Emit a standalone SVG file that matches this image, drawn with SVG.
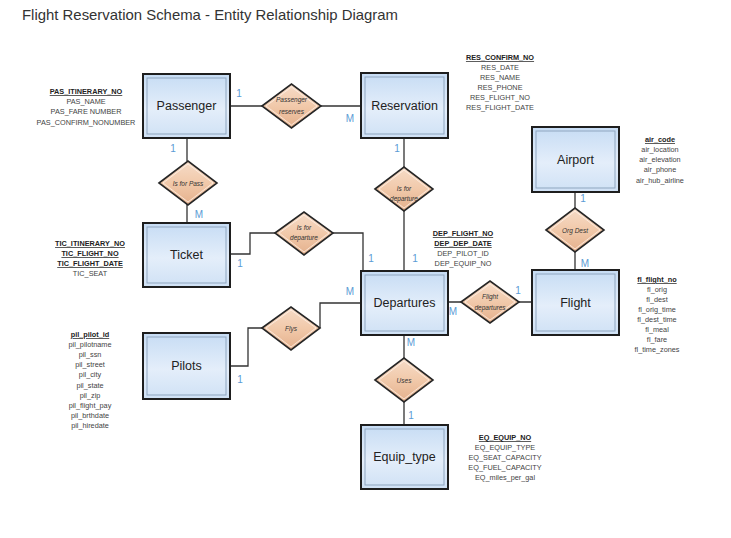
<svg xmlns="http://www.w3.org/2000/svg" width="731" height="538" viewBox="0 0 731 538">
<defs>
<linearGradient id="gBox" x1="0" y1="0" x2="0" y2="1">
<stop offset="0" stop-color="#c6dcf4"/>
<stop offset="0.55" stop-color="#e4eefa"/>
<stop offset="1" stop-color="#cfe1f5"/>
</linearGradient>
<linearGradient id="gDia" x1="0" y1="0" x2="0" y2="1">
<stop offset="0" stop-color="#f6dcc8"/>
<stop offset="0.5" stop-color="#f1c9aa"/>
<stop offset="1" stop-color="#e4b08c"/>
</linearGradient>
</defs>
<style>
.box{fill:url(#gBox);stroke:#1e1e1e;stroke-width:2}
.bev{fill:none;stroke:#8fa6bf;stroke-width:1}
.dia{fill:url(#gDia);stroke:#262626;stroke-width:1.6}
.diai{fill:none;stroke:#fff3ea;stroke-width:0.8}
.ln{fill:none;stroke:#333;stroke-width:1.3}
.en{font-family:"Liberation Sans",Arial,sans-serif;font-size:12.5px;fill:#222;text-anchor:middle}
.dl{font-family:"Liberation Sans",Arial,sans-serif;font-size:6.5px;font-style:italic;fill:#333;text-anchor:middle}
.at{font-family:"Liberation Sans",Arial,sans-serif;font-size:7.3px;fill:#444;text-anchor:middle}
.k{font-weight:bold;text-decoration:underline;fill:#222}
.c{font-family:"Liberation Sans",Arial,sans-serif;font-size:10px;fill:#5b9bd5;text-anchor:middle}
.t{font-family:"Liberation Sans",Arial,sans-serif;font-size:15px;fill:#333}
</style>
<rect width="731" height="538" fill="#fff"/>
<text class="t" x="22" y="20" textLength="376" lengthAdjust="spacingAndGlyphs">Flight Reservation Schema - Entity Relationship Diagram</text>

<g id="connectors">
<path class="ln" d="M230,106 H262 M321,106 H361"/>
<path class="ln" d="M187,138 V161 M187,204 V223"/>
<path class="ln" d="M404,138 V167 M404,210 V271"/>
<path class="ln" d="M230,254 H250 V233 H275 M333,233 H363 V271"/>
<path class="ln" d="M230,366 H248 V328 H262 M320,328 V303 H361"/>
<path class="ln" d="M448,302 H461 M519,302 H532"/>
<path class="ln" d="M575,192 V208 M575,252 V270"/>
<path class="ln" d="M404,335 V358 M404,402 V425"/>
</g>

<g id="passenger"><rect class="box" x="143" y="74" width="87" height="64"/><rect class="bev" x="147" y="78" width="79" height="56"/><text class="en" x="186.5" y="110">Passenger</text></g>
<g id="reservation"><rect class="box" x="361" y="73" width="87" height="65"/><rect class="bev" x="365" y="77" width="79" height="57"/><text class="en" x="404.5" y="110">Reservation</text></g>
<g id="airport"><rect class="box" x="532" y="127" width="87" height="65"/><rect class="bev" x="536" y="131" width="79" height="57"/><text class="en" x="575.5" y="164">Airport</text></g>
<g id="ticket"><rect class="box" x="143" y="223" width="87" height="64"/><rect class="bev" x="147" y="227" width="79" height="56"/><text class="en" x="186.5" y="259">Ticket</text></g>
<g id="departures"><rect class="box" x="361" y="271" width="87" height="64"/><rect class="bev" x="365" y="275" width="79" height="56"/><text class="en" x="404.5" y="307">Departures</text></g>
<g id="flight"><rect class="box" x="532" y="270" width="87" height="65"/><rect class="bev" x="536" y="274" width="79" height="57"/><text class="en" x="575.5" y="307">Flight</text></g>
<g id="pilots"><rect class="box" x="143" y="333" width="87" height="66"/><rect class="bev" x="147" y="337" width="79" height="58"/><text class="en" x="186.5" y="370">Pilots</text></g>
<g id="equip_type"><rect class="box" x="361" y="425" width="87" height="64"/><rect class="bev" x="365" y="429" width="79" height="56"/><text class="en" x="404.5" y="461">Equip_type</text></g>

<g id="rel-passenger-reserves"><polygon class="dia" points="262,106 291.5,84 321,106 291.5,128"/><polygon class="diai" points="266,106 291.5,87 317,106 291.5,125"/><text class="dl" x="291.5" y="102">Passenger</text><text class="dl" x="291.5" y="114">reserves</text></g>
<g id="rel-is-for-pass"><polygon class="dia" points="159,183 188,161 217,183 188,205"/><polygon class="diai" points="163,183 188,164 213,183 188,202"/><text class="dl" x="188" y="185.5">Is for Pass</text></g>
<g id="rel-res-departure"><polygon class="dia" points="375,189 404,167 433,189 404,211"/><polygon class="diai" points="379,189 404,170 429,189 404,208"/><text class="dl" x="404" y="191">Is for</text><text class="dl" x="404" y="201">departure</text></g>
<g id="rel-tic-departure"><polygon class="dia" points="275,233 304,212 333,233 304,255"/><polygon class="diai" points="279,233 304,215 329,233 304,252"/><text class="dl" x="304" y="230">Is for</text><text class="dl" x="304" y="240">departure</text></g>
<g id="rel-org-dest"><polygon class="dia" points="546,230 575,208 604,230 575,252"/><polygon class="diai" points="550,230 575,211 600,230 575,249"/><text class="dl" x="575" y="232.5">Org Dest</text></g>
<g id="rel-flight-departures"><polygon class="dia" points="461,302 490,281 519,302 490,323"/><polygon class="diai" points="465,302 490,284 515,302 490,320"/><text class="dl" x="490" y="299">Flight</text><text class="dl" x="490" y="309.5">departures</text></g>
<g id="rel-flys"><polygon class="dia" points="262,328 291,307 320,328 291,350"/><polygon class="diai" points="266,328 291,310 316,328 291,347"/><text class="dl" x="291" y="330.5">Flys</text></g>
<g id="rel-uses"><polygon class="dia" points="375,380 404,358 433,380 404,402"/><polygon class="diai" points="379,380 404,361 429,380 404,399"/><text class="dl" x="404" y="382.5" font-style="normal">Uses</text></g>

<g id="cardinality">
<text class="c" x="239" y="97">1</text>
<text class="c" x="350" y="122">M</text>
<text class="c" x="173" y="152">1</text>
<text class="c" x="199" y="218">M</text>
<text class="c" x="397" y="152">1</text>
<text class="c" x="240" y="267">1</text>
<text class="c" x="371" y="262">1</text>
<text class="c" x="415" y="262">1</text>
<text class="c" x="350" y="295">M</text>
<text class="c" x="583" y="202">1</text>
<text class="c" x="585" y="267">M</text>
<text class="c" x="518" y="294">1</text>
<text class="c" x="453" y="315">M</text>
<text class="c" x="240" y="383">1</text>
<text class="c" x="411" y="346">M</text>
<text class="c" x="411" y="419">1</text>
</g>

<g id="attrs-passenger">
<text class="at k" x="86" y="94">PAS_ITINERARY_NO</text>
<text class="at" x="86" y="104">PAS_NAME</text>
<text class="at" x="86" y="114">PAS_FARE NUMBER</text>
<text class="at" x="86" y="125">PAS_CONFIRM_NONUMBER</text>
</g>
<g id="attrs-reservation">
<text class="at k" x="500" y="60">RES_CONFIRM_NO</text>
<text class="at" x="500" y="70">RES_DATE</text>
<text class="at" x="500" y="80">RES_NAME</text>
<text class="at" x="500" y="90">RES_PHONE</text>
<text class="at" x="500" y="100">RES_FLIGHT_NO</text>
<text class="at" x="500" y="110">RES_FLIGHT_DATE</text>
</g>
<g id="attrs-airport">
<text class="at k" x="660" y="142">air_code</text>
<text class="at" x="660" y="152">air_location</text>
<text class="at" x="660" y="162">air_elevation</text>
<text class="at" x="660" y="172">air_phone</text>
<text class="at" x="660" y="183">air_hub_airline</text>
</g>
<g id="attrs-ticket">
<text class="at k" x="90" y="246">TIC_ITINERARY_NO</text>
<text class="at k" x="90" y="256">TIC_FLIGHT_NO</text>
<text class="at k" x="90" y="266">TIC_FLIGHT_DATE</text>
<text class="at" x="90" y="276">TIC_SEAT</text>
</g>
<g id="attrs-departures">
<text class="at k" x="463" y="236">DEP_FLIGHT_NO</text>
<text class="at k" x="463" y="246">DEP_DEP_DATE</text>
<text class="at" x="463" y="256">DEP_PILOT_ID</text>
<text class="at" x="463" y="266">DEP_EQUIP_NO</text>
</g>
<g id="attrs-flight">
<text class="at k" x="657" y="282">fl_flight_no</text>
<text class="at" x="657" y="292">fl_orig</text>
<text class="at" x="657" y="302">fl_dest</text>
<text class="at" x="657" y="312">fl_orig_time</text>
<text class="at" x="657" y="322">fl_dest_time</text>
<text class="at" x="657" y="332">fl_meal</text>
<text class="at" x="657" y="342">fl_fare</text>
<text class="at" x="657" y="352">fl_time_zones</text>
</g>
<g id="attrs-pilots">
<text class="at k" x="90" y="337">pil_pilot_id</text>
<text class="at" x="90" y="347">pil_pilotname</text>
<text class="at" x="90" y="357">pil_ssn</text>
<text class="at" x="90" y="367">pil_street</text>
<text class="at" x="90" y="377">pil_city</text>
<text class="at" x="90" y="388">pil_state</text>
<text class="at" x="90" y="398">pil_zip</text>
<text class="at" x="90" y="408">pil_flight_pay</text>
<text class="at" x="90" y="418">pil_brthdate</text>
<text class="at" x="90" y="428">pil_hiredate</text>
</g>
<g id="attrs-equip">
<text class="at k" x="505" y="440">EQ_EQUIP_NO</text>
<text class="at" x="505" y="450">EQ_EQUIP_TYPE</text>
<text class="at" x="505" y="460">EQ_SEAT_CAPACITY</text>
<text class="at" x="505" y="470">EQ_FUEL_CAPACITY</text>
<text class="at" x="505" y="480">EQ_miles_per_gal</text>
</g>
</svg>
